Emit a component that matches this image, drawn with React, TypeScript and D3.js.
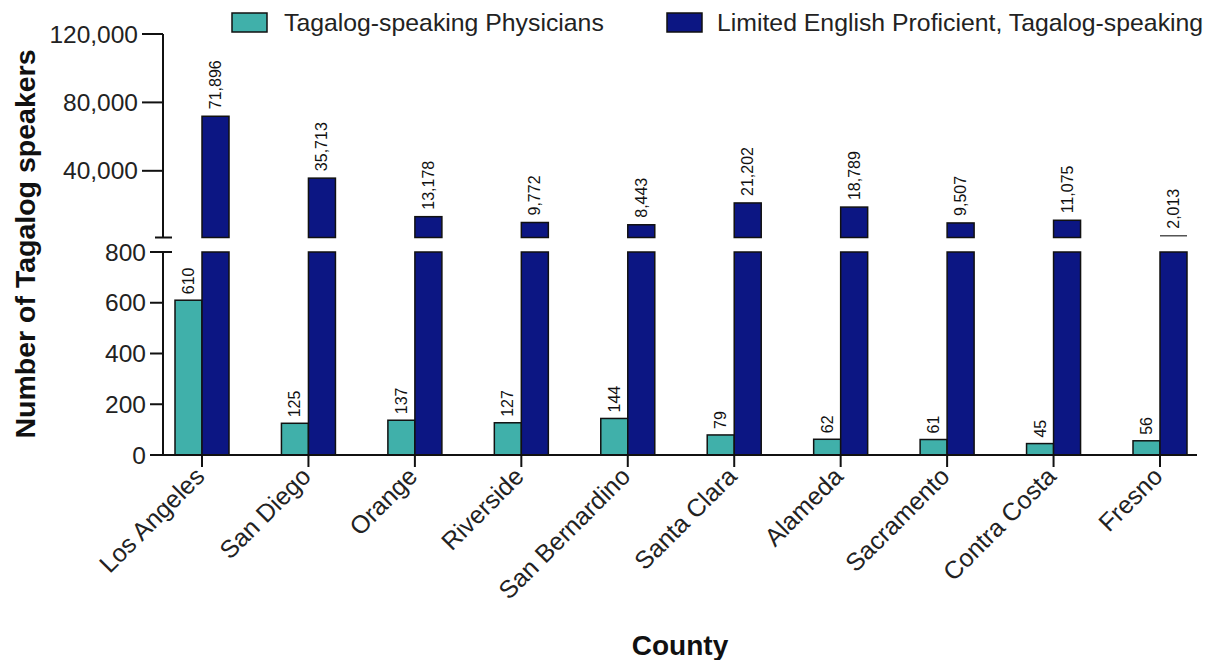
import React from "react";
import * as d3 from "d3";

const counties = ["Los Angeles", "San Diego", "Orange", "Riverside", "San Bernardino", "Santa Clara", "Alameda", "Sacramento", "Contra Costa", "Fresno"];
const physicians = [610, 125, 137, 127, 144, 79, 62, 61, 45, 56];
const lepSpeakers = [71896, 35713, 13178, 9772, 8443, 21202, 18789, 9507, 11075, 2013];
const upperTicks = [40000, 80000, 120000];
const lowerTicks = [0, 200, 400, 600, 800];
const seriesNames = ["Tagalog-speaking Physicians", "Limited English Proficient, Tagalog-speaking"];
const seriesColors = ["#40b0aa", "#0c1683"];

const W = 1207, H = 660;
const FONT = "'Liberation Sans', Arial, sans-serif";

export default function App() {
  const axisX = 163;
  const xAxisEnd = 1197;
  const x = d3.scalePoint<string>().domain(counties).range([202, 1160]);
  const sub = d3.scaleBand<number>().domain([0, 1]).range([-27, 27]).padding(0);
  const yLow = d3.scaleLinear().domain([0, 800]).range([455, 252]);
  const yUp = d3.scaleLinear().domain([1000, 120000]).range([237.5, 34]);
  const fmt = d3.format(",");
  const bw = sub.bandwidth();

  return (
    <svg width={W} height={H} style={{ position: "absolute", left: 0, top: 0, background: "#fff" }} fontFamily={FONT}>
      {/* legend */}
      {seriesNames.map((n, i) => {
        const lx = i === 0 ? 232 : 667;
        return (
          <g key={n}>
            <rect x={lx} y={13} width={35} height={19} fill={seriesColors[i]} stroke="#111" strokeWidth={1.5} />
            <text x={lx + (i === 0 ? 52 : 50)} y={31} fontSize={24.8} fill="#222">{n}</text>
          </g>
        );
      })}

      {/* bars */}
      {counties.map((c, i) => {
        const cx = x(c)!;
        const px = cx + sub(0)!;
        const nx = cx + sub(1)!;
        const pv = physicians[i];
        const lv = lepSpeakers[i];
        const upTop = yUp(lv);
        return (
          <g key={c}>
            <rect x={px} y={yLow(pv)} width={bw} height={yLow(0) - yLow(pv)} fill={seriesColors[0]} stroke="#111" strokeWidth={1.5} />
            <rect x={nx} y={yLow(800)} width={bw} height={yLow(0) - yLow(800)} fill={seriesColors[1]} stroke="#111" strokeWidth={1.5} />
            {lv > 1000 + 2000 ? (
              <rect x={nx} y={upTop} width={bw} height={yUp(1000) - upTop} fill={seriesColors[1]} stroke="#111" strokeWidth={1.5} />
            ) : (
              <line x1={nx} x2={nx + bw} y1={upTop} y2={upTop} stroke="#555" strokeWidth={1.5} />
            )}
            <text transform={`translate(${px + bw / 2 + 5.5},${yLow(pv) - 6}) rotate(-90)`} fontSize={16} fill="#111">{fmt(pv)}</text>
            <text transform={`translate(${nx + bw / 2 + 5.5},${upTop - 7}) rotate(-90)`} fontSize={16} fill="#111">{fmt(lv)}</text>
          </g>
        );
      })}

      {/* y axis upper */}
      <line x1={axisX} x2={axisX} y1={yUp(120000)} y2={yUp(1000)} stroke="#111" strokeWidth={2} />
      <line x1={155} x2={172} y1={yUp(1000)} y2={yUp(1000)} stroke="#111" strokeWidth={2} />
      {upperTicks.map(t => (
        <g key={t}>
          <line x1={142} x2={axisX} y1={yUp(t)} y2={yUp(t)} stroke="#111" strokeWidth={2} />
          <text x={138} y={yUp(t)} dy="0.35em" textAnchor="end" fontSize={24.5} fill="#222">{fmt(t)}</text>
        </g>
      ))}
      {/* y axis lower */}
      <line x1={axisX} x2={axisX} y1={yLow(800)} y2={yLow(0)} stroke="#111" strokeWidth={2} />
      <line x1={155} x2={172} y1={yLow(800)} y2={yLow(800)} stroke="#111" strokeWidth={2} />
      {lowerTicks.map(t => (
        <g key={t}>
          <line x1={150} x2={axisX} y1={yLow(t)} y2={yLow(t)} stroke="#111" strokeWidth={2} />
          <text x={146} y={yLow(t)} dy="0.35em" textAnchor="end" fontSize={24.5} fill="#222">{fmt(t)}</text>
        </g>
      ))}

      {/* x axis */}
      <line x1={axisX} x2={xAxisEnd} y1={yLow(0)} y2={yLow(0)} stroke="#111" strokeWidth={2} />
      {counties.map(c => (
        <g key={c}>
          <line x1={x(c)!} x2={x(c)!} y1={yLow(0)} y2={yLow(0) + 12} stroke="#111" strokeWidth={2} />
          <text transform={`translate(${x(c)! + 4},${yLow(0) + 23}) rotate(-45)`} textAnchor="end" fontSize={25} fill="#222">{c}</text>
        </g>
      ))}

      {/* axis titles */}
      <text transform={`translate(35,244) rotate(-90)`} textAnchor="middle" fontSize={28.5} fontWeight="bold" fill="#111">Number of Tagalog speakers</text>
      <text x={680} y={655} textAnchor="middle" fontSize={28} fontWeight="bold" fill="#111">County</text>
    </svg>
  );
}
